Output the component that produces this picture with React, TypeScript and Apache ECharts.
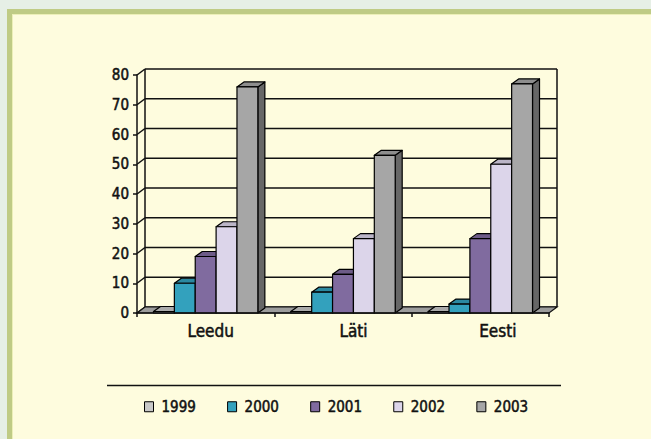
import React, { useEffect, useRef } from 'react';
import * as echarts from 'echarts';

const CATEGORIES = ['Leedu', 'Läti', 'Eesti'];
const YEARS = ['1999', '2000', '2001', '2002', '2003'];
const V1999 = [0.5, 0.5, 0.5];
const V2000 = [10, 7, 3];
const V2001 = [19, 13, 25];
const V2002 = [29, 25, 50];
const V2003 = [76, 53, 77];
const SERIES_VALUES = [V1999, V2000, V2001, V2002, V2003];
const Y_MIN = 0;
const Y_MAX = 80;
const Y_STEP = 10;

const COLORS = ['#c8c8c8', '#33a1bd', '#806b9f', '#dcd5ea', '#a6a6a6'];
const LABEL_SHIFT = [10, 21, 35];
const FONT = "'DejaVu Sans Condensed', 'DejaVu Sans', sans-serif";

// depth offsets (3D look)
const WALL_DX = 8;
const WALL_DY = -6;
const BAR_DX = 7;
const BAR_DY = -5;
const BAR_FRAC = 0.152;

function shade(hex: string, f: number) {
  const n = parseInt(hex.slice(1), 16);
  const r = Math.round(((n >> 16) & 255) * f);
  const g = Math.round(((n >> 8) & 255) * f);
  const b = Math.round((n & 255) * f);
  return `rgb(${r},${g},${b})`;
}

export default function App() {
  const ref = useRef<HTMLDivElement>(null);
  useEffect(() => {
    if (!ref.current) return;
    const chart = echarts.init(ref.current, null, { renderer: 'svg' });
    const lineStyle = { stroke: '#111', lineWidth: 1.5 };
    const txt = { color: '#111', fontFamily: FONT, textBorderColor: '#111', textBorderWidth: 0.5 };

    const wallSeries: any = {
      type: 'custom',
      name: 'walls',
      z: 1,
      silent: true,
      clip: false,
      data: [[0, 0]],
      encode: { x: 0, y: 1 },
      renderItem: (params: any, api: any) => {
        const cs = params.coordSys;
        const x = cs.x;
        const w = cs.width;
        const y0 = api.coord([0, Y_MIN])[1];
        const yTop = api.coord([0, Y_MAX])[1];
        const children: any[] = [];
        for (let v = Y_MIN; v <= Y_MAX; v += Y_STEP) {
          const yv = api.coord([0, v])[1];
          children.push({
            type: 'line',
            shape: { x1: x + WALL_DX, y1: yv + WALL_DY, x2: x + w + WALL_DX, y2: yv + WALL_DY },
            style: lineStyle,
          });
          children.push({
            type: 'line',
            shape: { x1: x, y1: yv, x2: x + WALL_DX, y2: yv + WALL_DY },
            style: lineStyle,
          });
        }
        children.push({
          type: 'line',
          shape: { x1: x + WALL_DX, y1: yTop + WALL_DY, x2: x + WALL_DX, y2: y0 + WALL_DY },
          style: lineStyle,
        });
        children.push({
          type: 'line',
          shape: { x1: x + w + WALL_DX, y1: yTop + WALL_DY, x2: x + w + WALL_DX, y2: y0 + WALL_DY },
          style: lineStyle,
        });
        children.push({
          type: 'polygon',
          shape: {
            points: [
              [x, y0],
              [x + w, y0],
              [x + w + WALL_DX, y0 + WALL_DY],
              [x + WALL_DX, y0 + WALL_DY],
            ],
          },
          style: { fill: '#9c9c9c', stroke: '#111', lineWidth: 1.2 },
        });
        return { type: 'group', children };
      },
    };

    const barSeries = YEARS.map((yr, si) => ({
      type: 'custom',
      name: yr,
      z: 3,
      clip: false,
      itemStyle: { color: COLORS[si], borderColor: '#000', borderWidth: 1 },
      data: SERIES_VALUES[si].map((v, ci) => [ci, v]),
      encode: { x: 0, y: 1 },
      renderItem: (params: any, api: any) => {
        const cat = api.value(0);
        const val = api.value(1);
        const band = api.size([1, 0])[0];
        const bw = band * BAR_FRAC;
        const base = api.coord([cat, Y_MIN]);
        const top = api.coord([cat, val]);
        const x0 = base[0] - 2.5 * bw + si * bw;
        const x1 = x0 + bw;
        const yb = base[1];
        const yt = top[1];
        const col = COLORS[si];
        const st = { stroke: '#000', lineWidth: 1.2, lineJoin: 'round' };
        return {
          type: 'group',
          children: [
            {
              type: 'polygon',
              shape: { points: [[x1, yb], [x1 + BAR_DX, yb + BAR_DY], [x1 + BAR_DX, yt + BAR_DY], [x1, yt]] },
              style: { ...st, fill: shade(col, 0.62) },
            },
            {
              type: 'polygon',
              shape: { points: [[x0, yt], [x1, yt], [x1 + BAR_DX, yt + BAR_DY], [x0 + BAR_DX, yt + BAR_DY]] },
              style: { ...st, fill: shade(col, 0.85) },
            },
            {
              type: 'polygon',
              shape: { points: [[x0, yb], [x1, yb], [x1, yt], [x0, yt]] },
              style: { ...st, fill: col },
            },
          ],
        };
      },
    }));

    const option: any = {
      animation: false,
      textStyle: { fontFamily: FONT },
      grid: { left: 137, top: 75, width: 412, height: 238, containLabel: false },
      xAxis: {
        type: 'category',
        data: CATEGORIES.map((c, i) => ({
          value: c,
          textStyle: { padding: [0, 0, 0, LABEL_SHIFT[i]] },
        })),
        axisLine: { show: true, lineStyle: { color: '#111', width: 1.5 } },
        axisTick: { show: true, alignWithLabel: false, interval: 0, length: 4, lineStyle: { color: '#111', width: 1.5 } },
        axisLabel: { ...txt, fontSize: 17, margin: 9 },
        splitLine: { show: false },
        z: 5,
      },
      yAxis: {
        type: 'value',
        min: Y_MIN,
        max: Y_MAX,
        interval: Y_STEP,
        axisLine: { show: true, lineStyle: { color: '#111', width: 1.5 } },
        axisTick: { show: true, length: 4, lineStyle: { color: '#111', width: 1.5 } },
        axisLabel: { ...txt, fontSize: 15, margin: 8 },
        splitLine: { show: false },
        z: 5,
      },
      legend: {
        data: YEARS,
        left: 144,
        top: 399,
        padding: 0,
        icon: 'rect',
        itemWidth: 9,
        itemHeight: 10,
        itemGap: 31,
        itemStyle: { borderColor: '#000', borderWidth: 1 },
        textStyle: { ...txt, fontSize: 15, padding: [0, 0, 0, 3] },
      },
      graphic: [
        {
          type: 'line',
          shape: { x1: 107, y1: 385.5, x2: 561, y2: 385.5 },
          style: { stroke: '#111', lineWidth: 1.5 },
        },
      ],
      series: [wallSeries, ...barSeries],
    };
    chart.setOption(option);
    return () => chart.dispose();
  }, []);

  return (
    <div
      style={{
        position: 'fixed',
        left: 0,
        top: 0,
        width: 651,
        height: 439,
        overflow: 'hidden',
        background: '#e6efe6',
      }}
    >
      <div
        style={{
          position: 'absolute',
          left: 7,
          top: 9,
          width: 700,
          height: 500,
          background: '#fefcde',
          borderLeft: '5px solid #bfcb85',
          borderTop: '5px solid #bfcb85',
          boxShadow: 'inset 1px 1px 0 #ecefb8',
        }}
      />
      <div ref={ref} style={{ position: 'absolute', left: 0, top: 0, width: 651, height: 439 }} />
    </div>
  );
}
